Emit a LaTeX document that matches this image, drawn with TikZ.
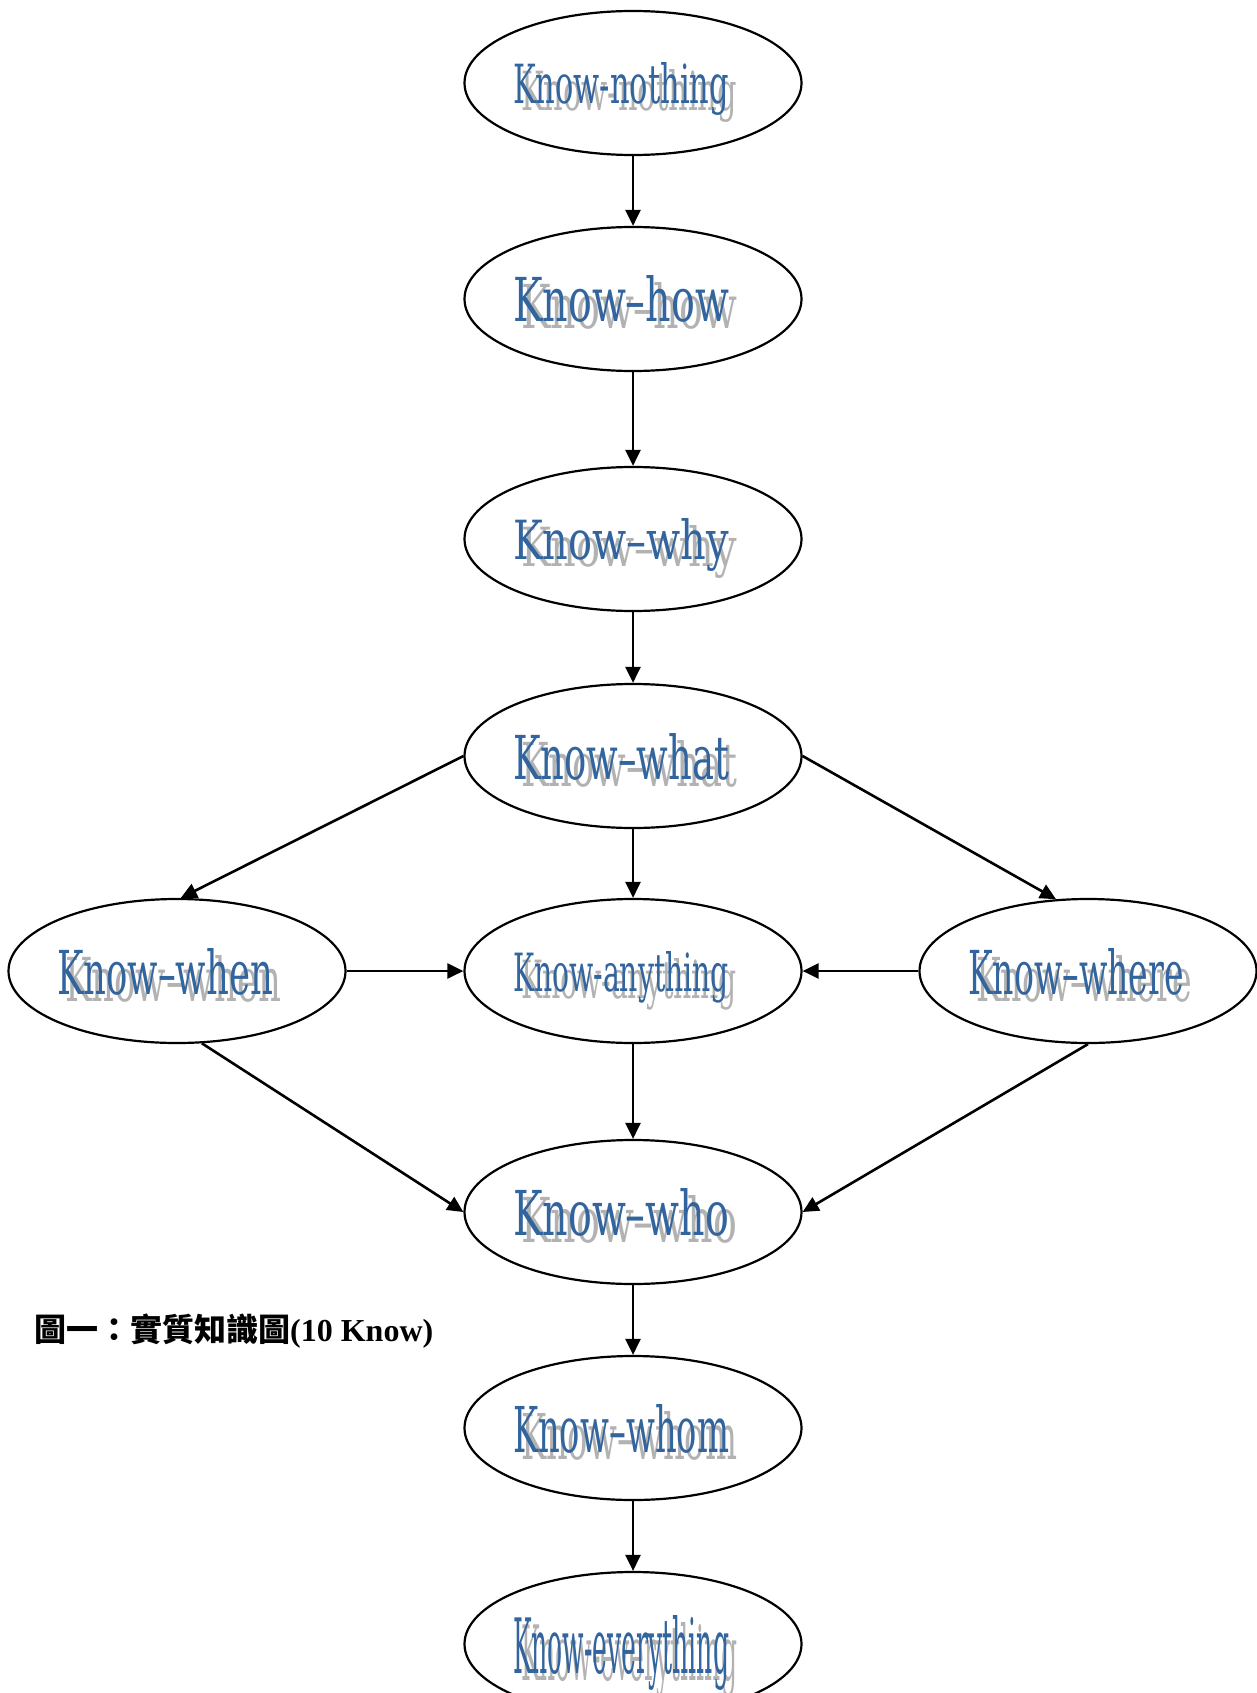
\documentclass[tikz,border=0pt]{standalone}
\usepackage{graphicx}
\usepackage{fontspec}
\setmainfont{Liberation Serif}
\newfontfamily\wafont{DejaVu Serif Condensed}
\newfontfamily\cjk{Noto Sans CJK TC}
\usetikzlibrary{shapes.geometric,arrows.meta}
\definecolor{wablue}{RGB}{50,100,158}
\definecolor{washadow}{RGB}{178,178,178}
\tikzset{
  knowbox/.style={ellipse,draw,line width=2.2pt,minimum width=337pt,minimum height=144pt,inner sep=0pt},
  link/.style={line width=2.6pt,-{Triangle[length=16pt,width=15pt]}},
  watext/.style={anchor=base west,inner sep=0pt,outer sep=0pt,font=\wafont}
}
% #1 ellipse name, #2 text height, #3 text
\newcommand\wordart[3]{%
  \node[watext] (#1-s) at ([shift={(-112,{#2/2+7})}]#1.center) {\resizebox{216pt}{#2pt}{\color{washadow}#3}};
  \node[watext] (#1-t) at ([shift={(-120,{#2/2})}]#1.center) {\resizebox{216pt}{#2pt}{\color{wablue}#3}};
}
\begin{document}
\begin{tikzpicture}[x=1pt,y=-1pt]
\useasboundingbox (0,0) rectangle (1256,1693);
\node[knowbox] (nothing)  at (633,83)   {};
\node[knowbox] (how)      at (633,299)  {};
\node[knowbox] (why)      at (633,539)  {};
\node[knowbox] (what)     at (633,756)  {};
\node[knowbox] (when)     at (177,971)  {};
\node[knowbox] (anything) at (633,971)  {};
\node[knowbox] (where)    at (1088,971) {};
\node[knowbox] (who)      at (633,1212) {};
\node[knowbox] (whom)     at (633,1428) {};
\node[knowbox] (every)    at (633,1644) {};

\wordart{nothing}{41}{Know-nothing}
\wordart{how}{46}{Know–how}
\wordart{why}{41}{Know–why}
\wordart{what}{46}{Know–what}
\wordart{when}{46}{Know–when}
\wordart{anything}{40}{Know-anything}
\wordart{where}{46}{Know–where}
\wordart{who}{47}{Know–who}
\wordart{whom}{48}{Know–whom}
\wordart{every}{58}{Know-everything}

\draw[link] (nothing) -- (how);
\draw[link] (how) -- (why);
\draw[link] (why) -- (what);
\draw[link] (what.west) -- (when.87);
\draw[link] (what.east) -- (where.114);
\draw[link] (what) -- (anything);
\draw[link] (when.east) -- (anything.west);
\draw[link] (where.west) -- (anything.east);
\draw[link] (anything) -- (who);
\draw[link] (when.-71) -- (who.west);
\draw[link] (where.south) -- (who.east);
\draw[link] (who) -- (whom);
\draw[link] (whom) -- (every);

\node[anchor=base west,inner sep=0pt] (caption) at (34,1341)
  {\fontsize{32pt}{36pt}\selectfont\bfseries{\cjk 圖一：實質知識圖}(10 Know)};
\end{tikzpicture}
\end{document}
